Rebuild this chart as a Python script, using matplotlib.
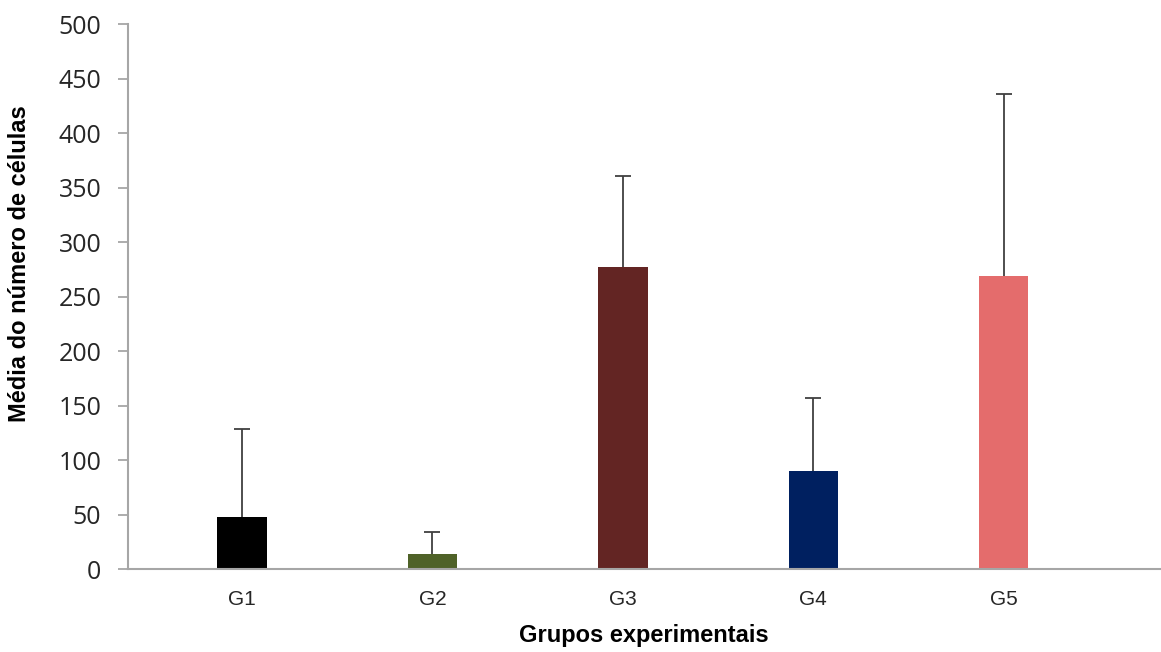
import numpy as np
import matplotlib.pyplot as plt

# Mean cell counts per experimental group, with upper error (SD)
groups = ['G1', 'G2', 'G3', 'G4', 'G5']
means = [48, 14, 277, 90, 269]
errors = [81, 20, 84, 67, 167]
colors = ['#000000', '#4F6228', '#632523', '#002060', '#E46C6C']

fig = plt.figure(figsize=(11.61, 6.52), dpi=100)
ax = fig.add_axes([0.110, 0.127, 0.889, 0.836])

x = np.arange(len(groups))
ax.bar(x, means, width=0.26, color=colors, zorder=2)

# upper error bars only
eb = ax.errorbar(x, means, yerr=[np.zeros(len(errors)), errors], fmt='none',
                 ecolor='#404040', elinewidth=1.3, capsize=6, capthick=1.3, zorder=1)
caps = eb[1]
caps[0].set_visible(False)

ax.set_ylim(0, 500)
ax.set_yticks(np.arange(0, 501, 50))
ax.set_xlim(-0.6, 4.82)
ax.set_xticks(x)
ax.set_xticklabels(groups, fontsize=15, family='Liberation Sans', color='#262626')
for lbl in ax.get_yticklabels():
    lbl.set_fontsize(18)
    lbl.set_family('Open Sans')
    lbl.set_color('#262626')

ax.tick_params(axis='x', length=0, pad=15)
ax.tick_params(axis='y', direction='out', length=7, color='#A6A6A6', width=1.3, pad=12)

for side in ['top', 'right']:
    ax.spines[side].set_visible(False)
for side in ['left', 'bottom']:
    ax.spines[side].set_color('#A6A6A6')
    ax.spines[side].set_linewidth(1.5)

ax.set_ylabel('Média do número de células', fontsize=17, fontweight='bold',
              family='Liberation Sans')
ax.yaxis.set_label_coords(-0.094, 0.56)
ax.set_xlabel('Grupos experimentais', fontsize=17, fontweight='bold',
              family='Liberation Sans', labelpad=11)

fig.savefig('out.png', dpi=100)
